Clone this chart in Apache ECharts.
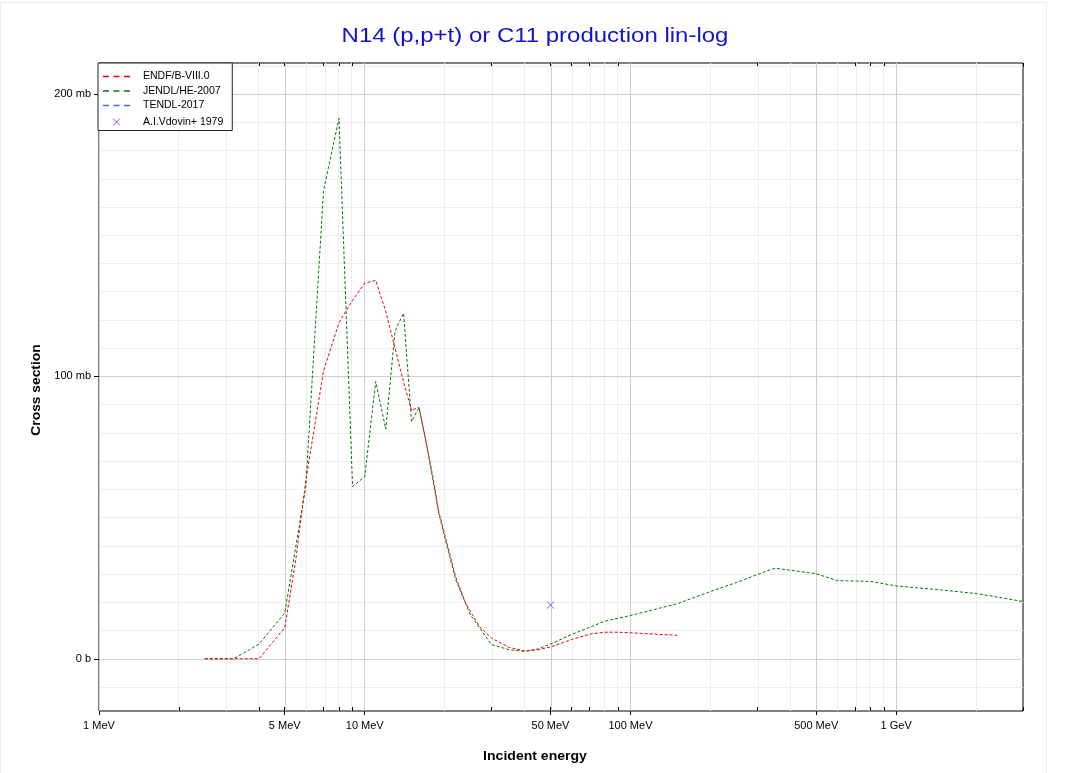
<!DOCTYPE html>
<html><head><meta charset="utf-8">
<script src="https://cdn.jsdelivr.net/npm/echarts@6/dist/echarts.min.js"></script>
<style>html,body{margin:0;padding:0;background:#fff}#c{width:1071px;height:773px}</style>
</head><body><div id="c"></div>
<script>
// ---------- data ----------
const TITLE = 'N14 (p,p+t) or C11 production lin-log';
const X_NAME = 'Incident energy';
const Y_NAME = 'Cross section';
const SERIES_NAMES = ['ENDF/B-VIII.0', 'JENDL/HE-2007', 'TENDL-2017', 'A.I.Vdovin+ 1979'];

// energies in MeV, cross sections in mb
const endfE  = [2.5, 3, 4, 5, 5.5, 6, 7, 8, 9, 10, 11, 12, 13, 14, 15, 16, 17, 18, 19, 20, 22, 24, 27, 30, 35, 40, 45, 50, 60, 70, 80, 90, 100, 150];
const endfXS = [0, 0, 0, 11, 35, 63, 102, 119, 127, 133, 134, 123, 110, 98, 88, 89, 77, 65, 52, 44, 29, 19.5, 11.5, 7.3, 4, 2.8, 3.2, 4.2, 6.8, 8.7, 9.4, 9.4, 9.2, 8.3];

const jendlE  = [2.5, 3.2, 3.5, 4, 5, 6, 7, 8, 9, 10, 11, 12, 13, 14, 15, 16, 17, 18, 19, 20, 22, 25, 30, 35, 40, 45, 50, 60, 70, 80, 100, 150, 200, 250, 300, 350, 500, 600, 800, 1000, 1500, 2000, 3000];
const jendlXS = [0, 0, 2, 5.2, 16.2, 61, 166, 191.4, 61, 64.5, 98.2, 81.3, 116, 122.4, 84, 89, 77, 64, 51.5, 43, 28, 15.5, 5, 3.2, 2.6, 3.5, 5.2, 8.6, 11.1, 13.3, 15.3, 19.5, 23.8, 27, 29.8, 32.1, 30.1, 27.7, 27.4, 25.8, 24.3, 23.1, 20.3];

const tendlE  = [];
const tendlXS = [];

const vdovinE  = [50];
const vdovinXS = [19];

// axis ranges & tick labels
const X_MIN = 1, X_MAX = 3000;          // MeV
const Y_MIN = -18.5, Y_MAX = 211;       // mb
const xLabelE    = [1, 5, 10, 50, 100, 500, 1000];
const xLabelText = ['1 MeV', '5 MeV', '10 MeV', '50 MeV', '100 MeV', '500 MeV', '1 GeV'];
const yLabelV    = [0, 100, 200];
const yLabelText = ['0 b', '100 mb', '200 mb'];
const Y_MINOR_STEP = 10;

// ---------- build ----------
const lg = Math.log10;
const FONT = '"Liberation Sans", Arial, Helvetica, sans-serif';
const pairs = (E, V) => E.map((e, i) => [lg(e), V[i]]);

const xMinorE = [];
for (let d = 1; d <= X_MAX; d *= 10) for (let m = 1; m <= 9; m++) { const v = m * d; if (v >= X_MIN && v <= X_MAX) xMinorE.push(v); }
const yMinorV = [];
for (let v = Math.ceil(Y_MIN / Y_MINOR_STEP) * Y_MINOR_STEP; v <= Y_MAX; v += Y_MINOR_STEP) yMinorV.push(v);

const MAJOR = '#cdcdcd', MINOR = '#ededed';
const gridLines = [];
xMinorE.forEach(e => { if (!xLabelE.includes(e)) gridLines.push({ xAxis: lg(e), lineStyle: { color: MINOR } }); });
yMinorV.forEach(v => { if (!yLabelV.includes(v)) gridLines.push({ yAxis: v, lineStyle: { color: MINOR } }); });
xLabelE.forEach(e => gridLines.push({ xAxis: lg(e), lineStyle: { color: MAJOR } }));
yLabelV.forEach(v => gridLines.push({ yAxis: v, lineStyle: { color: MAJOR } }));

const noLine = { show: false, onZero: false };
const xl = { min: lg(X_MIN), max: lg(X_MAX) };
const tickStyle = { color: '#000', width: 1 };
const xAxes = [
  Object.assign({ type: 'value', position: 'bottom', axisLine: noLine, splitLine: { show: false },
    axisTick: { show: true, inside: false, length: 4, customValues: xLabelE.map(lg), lineStyle: tickStyle },
    axisLabel: { show: true, customValues: xLabelE.map(lg), margin: 9, fontSize: 11, fontFamily: FONT, color: '#000',
      formatter: v => { const i = xLabelE.findIndex(e => Math.abs(lg(e) - v) < 1e-6); return i >= 0 ? xLabelText[i] : ''; } } }, xl),
  Object.assign({ type: 'value', position: 'bottom', axisLine: noLine, splitLine: { show: false }, axisLabel: { show: false },
    axisTick: { show: true, inside: true, length: 4, customValues: xMinorE.map(lg), lineStyle: tickStyle } }, xl),
  Object.assign({ type: 'value', position: 'top', axisLine: noLine, splitLine: { show: false }, axisLabel: { show: false },
    axisTick: { show: true, inside: true, length: 4, customValues: xMinorE.map(lg), lineStyle: tickStyle } }, xl)
];
const yl = { min: Y_MIN, max: Y_MAX };
const yAxes = [
  Object.assign({ type: 'value', position: 'left', axisLine: noLine, splitLine: { show: false },
    axisTick: { show: true, inside: false, length: 5, customValues: yLabelV, lineStyle: tickStyle },
    axisLabel: { show: true, customValues: yLabelV, margin: 8, fontSize: 11, fontFamily: FONT, color: '#000',
      formatter: v => { const i = yLabelV.indexOf(Math.round(v)); return i >= 0 ? yLabelText[i] : ''; } } }, yl),
  Object.assign({ type: 'value', position: 'left', axisLine: noLine, splitLine: { show: false }, axisLabel: { show: false },
    axisTick: { show: true, inside: true, length: 4, customValues: yMinorV, lineStyle: tickStyle } }, yl),
  Object.assign({ type: 'value', position: 'right', axisLine: noLine, splitLine: { show: false }, axisLabel: { show: false },
    axisTick: { show: true, inside: true, length: 4, customValues: yMinorV, lineStyle: tickStyle } }, yl)
];

const lineSeries = (name, E, V, color, z) => ({
  name, type: 'line', data: pairs(E, V), symbol: 'none', smooth: false, z,
  lineStyle: { color, width: 1, type: [3, 2] }, itemStyle: { color }, emphasis: { disabled: true }
});

// dashed legend icon (three short bars), padded to the full icon box
const DASH_ICON = 'path://M0,0M27,10M0,4.2h6v1.6h-6zM10.5,4.2h6v1.6h-6zM21,4.2h6v1.6h-6z';
const CROSS_ICON = 'path://M0,0M10,10M1.5,1.5L8.5,8.5M8.5,1.5L1.5,8.5';

const chart = echarts.init(document.getElementById('c'), null, { renderer: 'canvas' });
chart.setOption({
  animation: false,
  backgroundColor: '#fff',
  grid: { left: 99, right: 48, top: 63, bottom: 62, show: true, borderColor: '#000', borderWidth: 1, backgroundColor: 'transparent', z: 3 },
  xAxis: xAxes,
  yAxis: yAxes,
  legend: {
    data: [
      { name: SERIES_NAMES[0], icon: DASH_ICON },
      { name: SERIES_NAMES[1], icon: DASH_ICON },
      { name: SERIES_NAMES[2], icon: DASH_ICON },
      { name: SERIES_NAMES[3], icon: CROSS_ICON, itemStyle: { color: 'none', borderColor: '#3b3bff', borderWidth: 1 } }
    ],
    orient: 'vertical', left: 98, top: 63,
    padding: [8, 9, 1, 5], itemGap: 3.5, itemWidth: 27, itemHeight: 10,
    backgroundColor: '#fff', borderColor: '#222', borderWidth: 1, borderRadius: 0,
    textStyle: { fontSize: 10.5, fontFamily: FONT, color: '#000', padding: [0, 0, 0, 8], lineHeight: 10 },
    selectedMode: false, z: 10
  },
  graphic: [
    { type: 'rect', shape: { x: 0.5, y: 2.5, width: 1046, height: 790 }, style: { fill: 'none', stroke: '#ececec', lineWidth: 1 }, z: -1, silent: true },
    { type: 'text', x: 535, y: 36, scaleX: 1.17, style: { text: TITLE, font: '20.5px ' + FONT, fill: '#1212cc', align: 'center', verticalAlign: 'middle' } },
    { type: 'text', x: 535, y: 757, scaleX: 1.17, style: { text: X_NAME, font: 'bold 12px ' + FONT, fill: '#000', align: 'center', verticalAlign: 'middle' } },
    { type: 'text', x: 37, y: 390, rotation: Math.PI / 2, scaleX: 1.15, style: { text: Y_NAME, font: 'bold 12px ' + FONT, fill: '#000', align: 'center', verticalAlign: 'middle' } }
  ],
  series: [
    { name: '__grid', type: 'line', data: [], z: 1, silent: true,
      markLine: { silent: true, symbol: 'none', animation: false, label: { show: false }, emphasis: { disabled: true },
        lineStyle: { type: 'solid', width: 1 }, data: gridLines } },
    lineSeries(SERIES_NAMES[2], tendlE, tendlXS, '#3a6cf0', 4),
    lineSeries(SERIES_NAMES[1], jendlE, jendlXS, '#007a00', 5),
    lineSeries(SERIES_NAMES[0], endfE, endfXS, '#f00010', 6),
    { name: SERIES_NAMES[3], type: 'scatter', data: pairs(vdovinE, vdovinXS), z: 7,
      symbol: 'path://M0,0M10,10M1,1L9,9M9,1L1,9', symbolSize: 9,
      itemStyle: { color: '#3b3bff', borderColor: '#3b3bff', borderWidth: 1 }, emphasis: { disabled: true } }
  ]
});
</script></body></html>
